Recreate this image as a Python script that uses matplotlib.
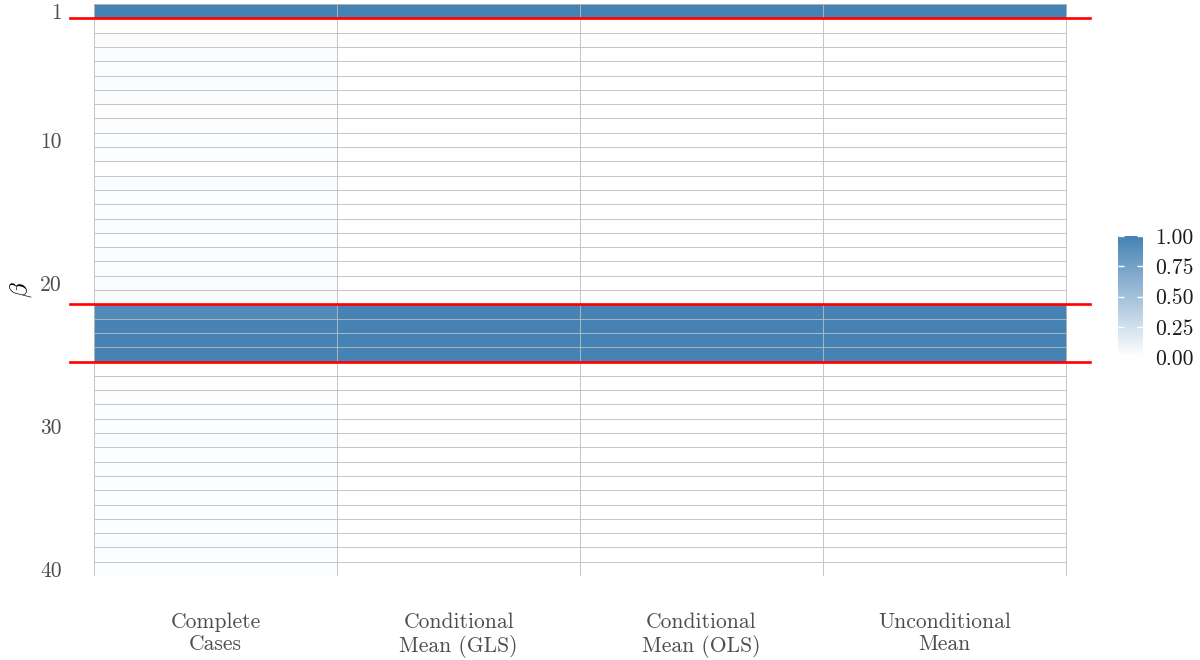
import numpy as np
import matplotlib
matplotlib.use("Agg")
import matplotlib.pyplot as plt
from matplotlib.colors import LinearSegmentedColormap

plt.rcParams['font.family'] = ['cmr10', 'DejaVu Sans']
plt.rcParams['mathtext.fontset'] = 'cm'
plt.rcParams['axes.formatter.use_mathtext'] = True

# methods on the x axis
methods = ["Complete\nCases", "Conditional\nMean (GLS)", "Conditional\nMean (OLS)", "Unconditional\nMean"]

# selection share per coefficient (rows 1..40)
complete_cases = [1.00, 0.01, 0.03, 0.03, 0.02, 0.03, 0.03, 0.01, 0.02, 0.02,
                  0.02, 0.01, 0.03, 0.02, 0.02, 0.03, 0.02, 0.03, 0.02, 0.03,
                  0.04, 0.93, 0.99, 1.00, 1.00, 0.01, 0.01, 0.02, 0.02, 0.02,
                  0.03, 0.02, 0.02, 0.02, 0.02, 0.02, 0.02, 0.03, 0.02, 0.02]
cond_gls = [1.00, 0.00, 0.01, 0.01, 0.00, 0.01, 0.00, 0.00, 0.01, 0.00,
            0.01, 0.00, 0.00, 0.00, 0.00, 0.01, 0.00, 0.00, 0.00, 0.01,
            0.01, 1.00, 1.00, 1.00, 1.00, 0.00, 0.00, 0.01, 0.00, 0.00,
            0.01, 0.00, 0.00, 0.00, 0.01, 0.00, 0.00, 0.00, 0.00, 0.00]
cond_ols = [1.00, 0.00, 0.01, 0.01, 0.00, 0.00, 0.00, 0.00, 0.00, 0.00,
            0.00, 0.00, 0.00, 0.00, 0.00, 0.01, 0.00, 0.00, 0.00, 0.00,
            0.01, 1.00, 1.00, 1.00, 1.00, 0.00, 0.00, 0.00, 0.00, 0.00,
            0.00, 0.00, 0.00, 0.00, 0.00, 0.00, 0.00, 0.00, 0.00, 0.00]
uncond_mean = [1.00, 0.00, 0.01, 0.01, 0.00, 0.01, 0.00, 0.00, 0.01, 0.01,
               0.01, 0.00, 0.00, 0.00, 0.00, 0.01, 0.00, 0.00, 0.00, 0.00,
               0.01, 1.00, 1.00, 1.00, 1.00, 0.00, 0.00, 0.00, 0.00, 0.00,
               0.00, 0.00, 0.00, 0.00, 0.00, 0.00, 0.00, 0.00, 0.00, 0.00]

y_ticks = [1, 10, 20, 30, 40]
cut_points = [1.5, 21.5, 25.5]

Z = np.array([complete_cases, cond_gls, cond_ols, uncond_mean]).T
n_rows, n_cols = Z.shape

cmap = LinearSegmentedColormap.from_list("wb", ["#ffffff", "#4682b4"])

fig = plt.figure(figsize=(12, 6.6), dpi=100)
ax = fig.add_axes([70 / 1200, 1 - 576 / 660, 1020 / 1200, 572 / 660])

xe = np.arange(n_cols + 1) + 0.5
ye = np.arange(n_rows + 1) + 0.5
mesh = ax.pcolormesh(xe, ye, Z, cmap=cmap, vmin=0, vmax=1,
                     edgecolors=(0.74, 0.74, 0.74, 0.85), linewidth=0.7)

for y in cut_points:
    ax.plot([0.4, 4.6], [y, y], color="#ff0000", lw=1.9, clip_on=False)

ax.set_xlim(0.4, 4.6)
ax.set_ylim(n_rows + 0.5, 0.5)
ax.set_xticks(np.arange(1, n_cols + 1))
ax.set_xticklabels(methods, fontsize=15.5, color="#4d4d4d", linespacing=1.2)
ax.set_yticks(y_ticks)
ax.set_yticklabels([str(t) for t in y_ticks], fontsize=15.5, color="#4d4d4d")
ax.tick_params(length=0)
ax.tick_params(axis='x', pad=26)
ax.tick_params(axis='y', pad=6)
for s in ax.spines.values():
    s.set_visible(False)
ax.set_ylabel(r"$\beta$", fontsize=18, rotation=90)
ax.yaxis.set_label_coords(-0.035, 0.5)

cax = fig.add_axes([1118 / 1200, 1 - 357 / 660, 25 / 1200, 121 / 660])
cb = fig.colorbar(mesh, cax=cax)
cb.outline.set_visible(False)
cb.set_ticks([0, 0.25, 0.5, 0.75, 1.0])
cb.set_ticklabels(["0.00", "0.25", "0.50", "0.75", "1.00"])
cax.tick_params(axis='y', direction='in', length=4, width=1, color='white',
                left=True, right=True, labelsize=15.5, labelcolor='#1a1a1a', pad=9)

fig.savefig("out.png", dpi=100)
